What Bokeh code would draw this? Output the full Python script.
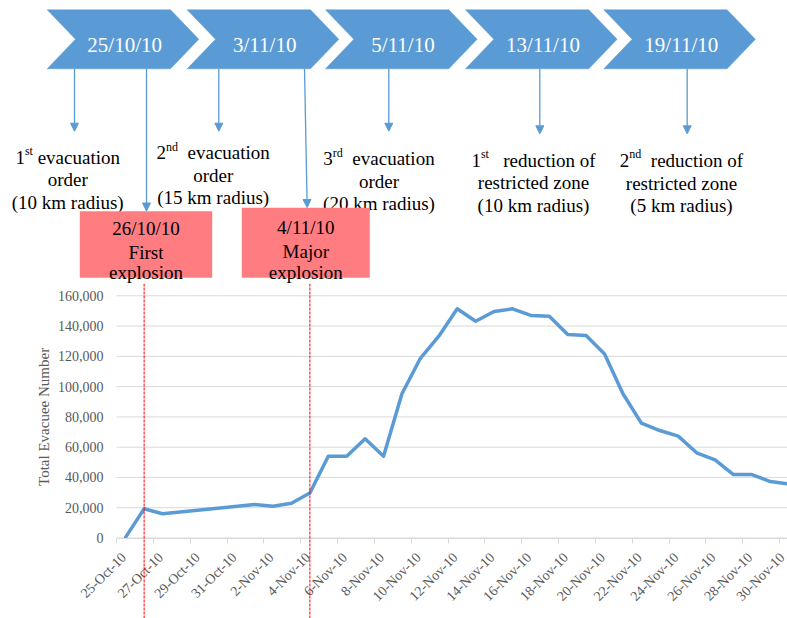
import math
import pandas as pd
from bokeh.plotting import figure
from bokeh.layouts import column
from bokeh.models import (Range1d, LinearAxis, FixedTicker, NumeralTickFormatter,
                          Span, Label, Arrow, NormalHead)
from bokeh.core.properties import value
from bokeh.embed import file_html
from bokeh.resources import INLINE

# ------------------------------------------------------------------ data
dates = ["2010-10-25", "2010-10-26", "2010-10-27", "2010-11-01", "2010-11-02",
         "2010-11-03", "2010-11-04", "2010-11-05", "2010-11-06", "2010-11-07",
         "2010-11-08", "2010-11-09", "2010-11-10", "2010-11-11", "2010-11-12",
         "2010-11-13", "2010-11-14", "2010-11-15", "2010-11-16", "2010-11-17",
         "2010-11-18", "2010-11-19", "2010-11-20", "2010-11-21", "2010-11-22",
         "2010-11-23", "2010-11-24", "2010-11-25", "2010-11-26", "2010-11-27",
         "2010-11-28", "2010-11-29", "2010-11-30"]
evacuees = [600, 19300, 16000, 22100, 21000,
            23000, 29700, 54000, 54000, 65500,
            54000, 95300, 118700, 133300, 151400,
            143200, 149600, 151400, 147000, 146500,
            134400, 133700, 121600, 95300, 75900,
            71000, 67300, 56300, 51600, 41900,
            41900, 37300, 35700]
tick_labels = ["25-Oct-10", "27-Oct-10", "29-Oct-10", "31-Oct-10", "2-Nov-10",
               "4-Nov-10", "6-Nov-10", "8-Nov-10", "10-Nov-10", "12-Nov-10",
               "14-Nov-10", "16-Nov-10", "18-Nov-10", "20-Nov-10", "22-Nov-10",
               "24-Nov-10", "26-Nov-10", "28-Nov-10", "30-Nov-10"]
y_ticks = [0, 20000, 40000, 60000, 80000, 100000, 120000, 140000, 160000]
explosion_dates = ["2010-10-26", "2010-11-04"]

milestone_dates = ["25/10/10", "3/11/10", "5/11/10", "13/11/10", "19/11/10"]
milestone_ord = [("1", "st"), ("2", "nd"), ("3", "rd"), ("1", "st"), ("2", "nd")]
milestone_head = [" evacuation", "  evacuation", "  evacuation",
                  "   reduction of", "  reduction of"]
milestone_more = [["order", "(10 km radius)"], ["order", "(15 km radius)"],
                  ["order", "(20 km radius)"], ["restricted zone", "(10 km radius)"],
                  ["restricted zone", "(5 km radius)"]]
event_dates = ["26/10/10", "4/11/10"]
event_names = [["First", "explosion"], ["Major", "explosion"]]

# ------------------------------------------------------------------ style / layout
FONT_NAME = "Liberation Serif"
FONT = value(FONT_NAME)
BLUE = "#5B9BD5"
SALMON = "#FF7C80"
GRAY = "#595959"
GRIDC = "#D9D9D9"
W = 787
H_TOP = 283
H_CHART = 335

TIMES = {' ': 250, '(': 333, ')': 333, '/': 278, 'a': 444, 'b': 500, 'c': 444,
         'd': 500, 'e': 444, 'f': 333, 'i': 278, 'k': 500, 'l': 278, 'm': 778,
         'n': 500, 'o': 500, 'r': 333, 's': 389, 't': 278, 'u': 500, 'v': 500,
         'z': 444}


def tw(s, size):
    return sum(TIMES.get(c, 500) for c in s) / 1000.0 * size


# top diagram (page pixel coordinates)
chev_left = [46.7, 186.7, 325.0, 465.0, 603.3]
CH_TOP, CH_BOT = 9.3, 68.3
CH_MID = (CH_TOP + CH_BOT) / 2
CH_BODY, CH_TIP, CH_NOTCH = 123.3, 151.6, 28.3
note_cx = [67.2, 212.7, 378.5, 533.0, 681.0]
note_base = [[156.5, 179.0, 201.5], [152.0, 174.5, 197.0], [158.0, 180.5, 203.0],
             [159.5, 182.0, 204.5], [159.5, 182.5, 205.0]]
arrow_x = [74.0, 218.3, 388.3, 539.3, 686.7]
arrow_tip = [130.7, 130.7, 130.7, 133.3, 133.3]
boxes = [(79.3, 211.7, 210.7, 277.3), (241.3, 369.3, 207.3, 277.3)]
box_cx = [145.5, 305.3]
box_base = [[228.3, 251.7, 271.7], [226.7, 250.7, 271.7]]
event_arrows = [(146.0, 68.3, 146.0, 210.5), (304.0, 68.3, 306.7, 207.0)]
NOTE_SIZE = 19
SUP_SIZE = 12
SUP_RAISE = 6

top = figure(width=W, height=H_TOP, x_range=Range1d(0, W), y_range=Range1d(H_TOP, 0),
             output_backend="svg", toolbar_location=None,
             x_axis_location=None, y_axis_location=None,
             min_border=0, outline_line_color=None)
top.grid.visible = False

xs_ch, ys_ch = [], []
for x0 in chev_left:
    xs_ch.append([x0, x0 + CH_BODY, x0 + CH_TIP, x0 + CH_BODY, x0, x0 + CH_NOTCH])
    ys_ch.append([CH_TOP, CH_TOP, CH_MID, CH_BOT, CH_BOT, CH_MID])
top.patches(xs_ch, ys_ch, fill_color=BLUE, line_color=BLUE, line_width=0.5)
top.text(x=[x0 + 77.5 for x0 in chev_left], y=[44.0] * len(chev_left), text=milestone_dates,
         text_font=FONT, text_font_size="21px", text_color="white",
         text_align="center", text_baseline="alphabetic")

for i in range(len(milestone_dates)):
    num, sup = milestone_ord[i]
    head = milestone_head[i]
    total = tw(num, NOTE_SIZE) + tw(sup, SUP_SIZE) + tw(head, NOTE_SIZE)
    left = note_cx[i] - total / 2
    b0 = note_base[i][0]
    top.text(x=[left], y=[b0], text=[num], text_font=FONT, text_font_size=f"{NOTE_SIZE}px",
             text_color="black", text_align="left", text_baseline="alphabetic")
    x1 = left + tw(num, NOTE_SIZE)
    top.text(x=[x1], y=[b0 - SUP_RAISE], text=[sup], text_font=FONT,
             text_font_size=f"{SUP_SIZE}px", text_color="black", text_align="left",
             text_baseline="alphabetic")
    body = head.lstrip()
    lead = head[:len(head) - len(body)]
    x2 = x1 + tw(sup, SUP_SIZE) + tw(lead, NOTE_SIZE)
    top.text(x=[x2], y=[b0], text=[body], text_font=FONT, text_font_size=f"{NOTE_SIZE}px",
             text_color="black", text_align="left", text_baseline="alphabetic")
    top.text(x=[note_cx[i]] * 2, y=note_base[i][1:], text=milestone_more[i], text_font=FONT,
             text_font_size=f"{NOTE_SIZE}px", text_color="black", text_align="center",
             text_baseline="alphabetic")
    top.add_layout(Arrow(end=NormalHead(size=8, fill_color=BLUE, line_color=BLUE, line_width=1),
                         x_start=arrow_x[i], y_start=CH_BOT, x_end=arrow_x[i], y_end=arrow_tip[i],
                         line_color=BLUE, line_width=1.3))

for i in range(len(event_dates)):
    l, r, t, b = boxes[i]
    top.quad(left=[l], right=[r], top=[t], bottom=[b], fill_color=SALMON, line_color=None)
    top.text(x=[box_cx[i]] * 3, y=box_base[i], text=[event_dates[i]] + event_names[i],
             text_font=FONT, text_font_size=f"{NOTE_SIZE}px", text_color="black",
             text_align="center", text_baseline="alphabetic")
    xa, ya_, xb, yb = event_arrows[i]
    top.add_layout(Arrow(end=NormalHead(size=8, fill_color=BLUE, line_color=BLUE, line_width=1),
                         x_start=xa, y_start=ya_, x_end=xb, y_end=yb,
                         line_color=BLUE, line_width=1.3))

# ------------------------------------------------------------------ chart
start = pd.Timestamp(dates[0])
xs = [(pd.Timestamp(d) - start).days + 0.5 for d in dates]
n_days = (pd.Timestamp(dates[-1]) - start).days

PX_DAY = 18.417          # horizontal scale of the chart
X0_PX = 116.0            # page x of the first date tick
X_START = -X0_PX / PX_DAY
X_END = (W - X0_PX) / PX_DAY
PX_UNIT = 0.0015138      # vertical scale (px per evacuee)
Y0_PX = 537.5            # page y of the zero line
Y_END = (Y0_PX - H_TOP) / PX_UNIT
Y_START = (Y0_PX - (H_TOP + H_CHART)) / PX_UNIT

p = figure(width=W, height=H_CHART, x_range=Range1d(X_START, X_END),
           y_range=Range1d(Y_START, Y_END),
           output_backend="svg", toolbar_location=None,
           x_axis_location=None, y_axis_location="left",
           min_border=0, outline_line_color=None)
p.grid.visible = False

# horizontal gridlines spanning only the date axis
p.segment(x0=[0] * len(y_ticks), x1=[X_END] * len(y_ticks), y0=y_ticks, y1=y_ticks,
          line_color=GRIDC, line_width=1)

ya = p.yaxis[0]
ya.fixed_location = 0
ya.bounds = (y_ticks[0], y_ticks[-1])
ya.ticker = FixedTicker(ticks=y_ticks)
ya.formatter = NumeralTickFormatter(format="0,0")
ya.axis_line_color = None
ya.major_tick_line_color = None
ya.minor_tick_line_color = None
ya.major_tick_out = 0
ya.major_tick_in = 0
ya.major_label_standoff = 13
ya.major_label_text_font = FONT_NAME
ya.major_label_text_font_size = "14px"
ya.major_label_text_color = GRAY

tick_pos = list(range(0, n_days + 1, 2))
LABEL_OFFSET = 0.4
lab_pos = [t + LABEL_OFFSET for t in tick_pos]
xa_ = LinearAxis(ticker=FixedTicker(ticks=lab_pos, minor_ticks=tick_pos), fixed_location=0,
                 bounds=(0, X_END),
                 axis_line_color=GRIDC, axis_line_width=1,
                 major_tick_line_color=None, major_tick_out=0, major_tick_in=0,
                 minor_tick_line_color=GRIDC, minor_tick_out=5, minor_tick_in=0,
                 major_label_overrides={t: s for t, s in zip(lab_pos, tick_labels)},
                 major_label_orientation=math.pi / 4, major_label_standoff=12,
                 major_label_text_font=FONT_NAME,
                 major_label_text_font_size="14px", major_label_text_color=GRAY)
p.add_layout(xa_, "below")

p.line(xs, evacuees, line_color=BLUE, line_width=3.5, line_join="round", line_cap="round")

for d in explosion_dates:
    loc = (pd.Timestamp(d) - start).days + 0.5
    p.add_layout(Span(location=loc, dimension="height", line_color="red",
                      line_width=1, line_dash="3 1"))

p.add_layout(Label(x=-3.95, y=(y_ticks[0] + y_ticks[-1]) / 2, text="Total Evacuee Number",
                   angle=math.pi / 2, text_align="center", text_baseline="middle",
                   text_font=FONT_NAME, text_font_size="15px", text_color=GRAY))

layout = column(top, p, spacing=0)
open("out.html", "w").write(file_html(layout, INLINE))
